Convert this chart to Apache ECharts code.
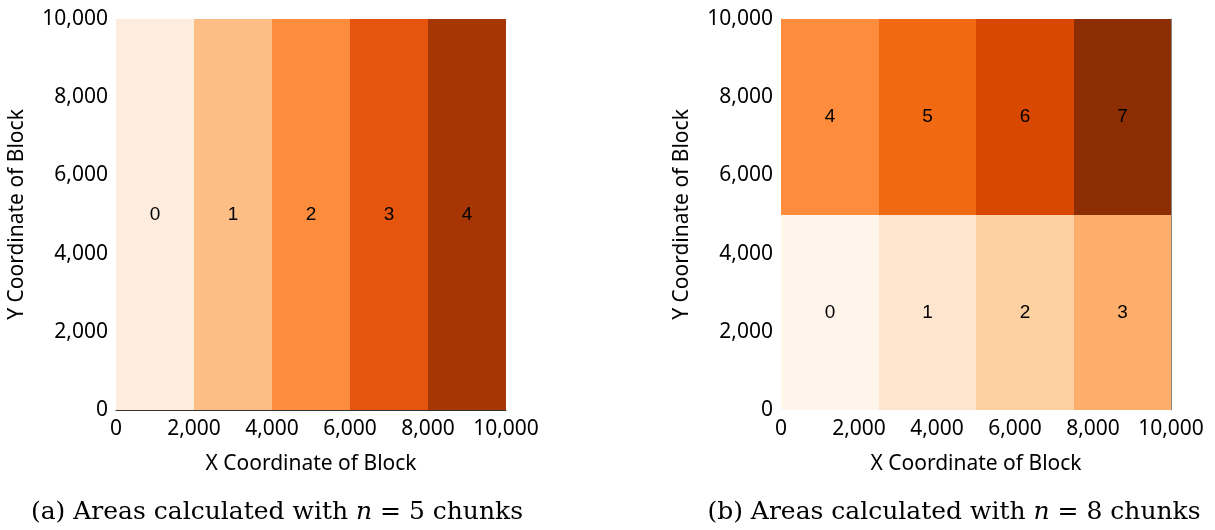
<!DOCTYPE html>
<html>
<head>
<meta charset="utf-8">
<script src="https://cdn.jsdelivr.net/npm/echarts@6/dist/echarts.min.js"></script>
<style>
html,body{margin:0;padding:0;background:#fff;}
#main{width:1215px;height:530px;}
</style>
</head>
<body>
<div id="main"></div>
<script>
// ---- data ----
// chunks for n = 5: [x0, x1, y0, y1, chunkId]
const chunksA = [
  [0, 2000, 0, 10000, 0],
  [2000, 4000, 0, 10000, 1],
  [4000, 6000, 0, 10000, 2],
  [6000, 8000, 0, 10000, 3],
  [8000, 10000, 0, 10000, 4]
];
// chunks for n = 8
const chunksB = [
  [0, 2500, 0, 5000, 0],
  [2500, 5000, 0, 5000, 1],
  [5000, 7500, 0, 5000, 2],
  [7500, 10000, 0, 5000, 3],
  [0, 2500, 5000, 10000, 4],
  [2500, 5000, 5000, 10000, 5],
  [5000, 7500, 5000, 10000, 6],
  [7500, 10000, 5000, 10000, 7]
];
const colorsA = ['#feedde', '#fdbe85', '#fd8d3c', '#e6550d', '#a63603'];
const colorsB = ['#fff5eb', '#fee6ce', '#fdd0a2', '#fdae6b', '#fd8d3c', '#f16913', '#d94801', '#8c2d04'];
const captionA = '(a) Areas calculated with {i|n} = 5 chunks';
const captionB = '(b) Areas calculated with {i|n} = 8 chunks';
const xName = 'X Coordinate of Block';
const yName = 'Y Coordinate of Block';

const sansFont = 'Noto Sans';
const fmt = v => v.toLocaleString('en-US');

function makeRender(colors) {
  return function (params, api) {
    const p0 = api.coord([api.value(0), api.value(2)]);
    const p1 = api.coord([api.value(1), api.value(3)]);
    const x0 = Math.round(p0[0]), x1 = Math.round(p1[0]);
    const yb = Math.round(p0[1]), yt = Math.round(p1[1]);
    const id = api.value(4);
    return {
      type: 'rect',
      shape: { x: x0, y: yt, width: x1 - x0, height: yb - yt },
      style: { fill: colors[id] },
      textContent: {
        style: { text: String(id), fill: '#000', fontSize: 19, fontFamily: 'Liberation Sans' }
      },
      textConfig: { position: 'inside' }
    };
  };
}

function xAxis(gridIndex, showLine) {
  return {
    type: 'value', gridIndex, min: 0, max: 10000, interval: 2000,
    name: xName, nameLocation: 'middle', nameGap: 44,
    nameTextStyle: { fontFamily: sansFont, fontSize: 21, color: '#000' },
    axisLine: { show: showLine, onZero: false, lineStyle: { color: '#333', width: 1 } },
    axisTick: { show: false },
    splitLine: { show: false },
    axisLabel: { formatter: fmt, fontFamily: sansFont, fontSize: 21, color: '#000', margin: 9 }
  };
}
function yAxis(gridIndex, lineColor) {
  return {
    type: 'value', gridIndex, min: 0, max: 10000, interval: 2000,
    name: yName, nameLocation: 'middle', nameGap: 88,
    nameTextStyle: { fontFamily: sansFont, fontSize: 21, color: '#000' },
    axisLine: { show: !!lineColor, onZero: false, lineStyle: { color: lineColor || '#000', width: 1 } },
    axisTick: { show: false },
    splitLine: { show: false },
    axisLabel: { formatter: fmt, fontFamily: sansFont, fontSize: 21, color: '#000', margin: 8 }
  };
}

const captionStyle = {
  fontFamily: 'DejaVu Serif', fontSize: 25, fontWeight: 'normal', color: '#000',
  rich: { i: { fontFamily: 'DejaVu Serif', fontStyle: 'italic', fontSize: 25, color: '#000' } }
};

const chart = echarts.init(document.getElementById('main'));
chart.setOption({
  animation: false,
  backgroundColor: '#fff',
  title: [
    { text: captionA, left: 272, top: 495, textAlign: 'center', textStyle: captionStyle },
    { text: captionB, left: 949, top: 495, textAlign: 'center', textStyle: captionStyle }
  ],
  grid: [
    { left: 116, top: 19, width: 390, height: 391 },
    { left: 781, top: 19, width: 390, height: 391 }
  ],
  xAxis: [xAxis(0, true), xAxis(1, false)],
  yAxis: [
    yAxis(0, null),
    yAxis(1, '#c8c8c8'),
    { type: 'value', gridIndex: 1, position: 'right', min: 0, max: 10000, interval: 2000,
      axisLine: { show: true, onZero: false, lineStyle: { color: '#888', width: 1 } },
      axisTick: { show: false }, axisLabel: { show: false }, splitLine: { show: false } }
  ],
  series: [
    { type: 'custom', xAxisIndex: 0, yAxisIndex: 0, renderItem: makeRender(colorsA), data: chunksA, z: 1 },
    { type: 'custom', xAxisIndex: 1, yAxisIndex: 1, renderItem: makeRender(colorsB), data: chunksB, z: 1 }
  ]
});
</script>
</body>
</html>
